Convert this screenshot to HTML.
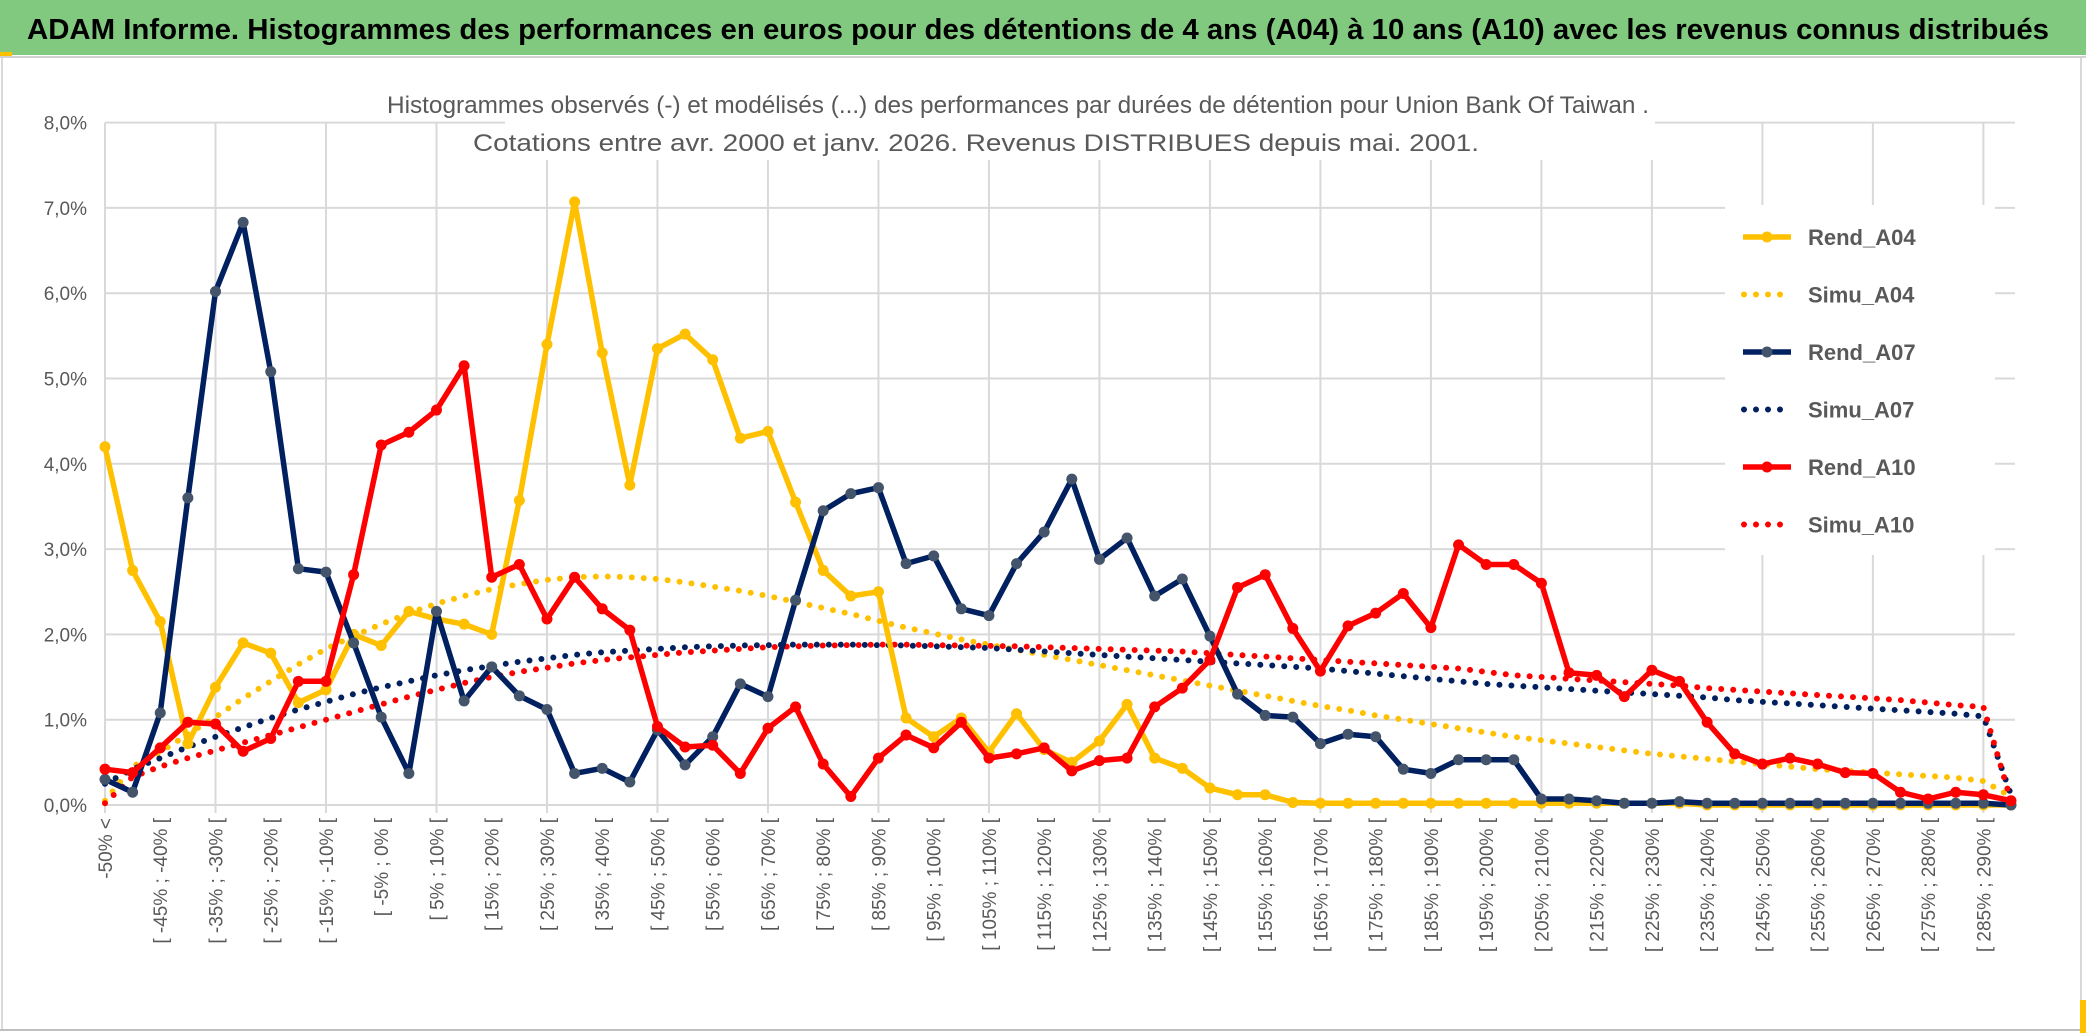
<!DOCTYPE html>
<html><head><meta charset="utf-8"><style>
html,body{margin:0;padding:0;background:#fff;}
svg{display:block;font-family:"Liberation Sans Narrow","Liberation Sans",sans-serif;}
</style></head><body>
<svg id="chart" width="2086" height="1033" viewBox="0 0 2086 1033" xmlns="http://www.w3.org/2000/svg">
<rect x="0" y="0" width="2086" height="1033" fill="#fff"/>
<rect x="0" y="0" width="2086" height="55" fill="#80C97F"/>
<rect x="0" y="52" width="12" height="4" fill="#FFC000"/>
<line x1="0" y1="57" x2="2086" y2="57" stroke="#d0d0d0" stroke-width="2"/>
<text x="27" y="39" font-size="29" font-weight="bold" fill="#000" textLength="2022" lengthAdjust="spacingAndGlyphs">ADAM Informe. Histogrammes des performances en euros pour des détentions de 4 ans (A04) à 10 ans (A10) avec les revenus connus distribués</text>
<line x1="2" y1="58" x2="2" y2="1031" stroke="#d9d9d9" stroke-width="2"/>
<line x1="0" y1="1030" x2="2086" y2="1030" stroke="#bfbfbf" stroke-width="2"/>
<line x1="2081" y1="58" x2="2081" y2="1030" stroke="#d9d9d9" stroke-width="2"/>
<rect x="2080" y="1000" width="6" height="33" fill="#FFC000"/>
<g id="grid"></g>
<rect x="505" y="60" width="1150" height="100" fill="#fff"/>
<text x="1018" y="113" font-size="24" fill="#595959" text-anchor="middle" textLength="1262" lengthAdjust="spacingAndGlyphs">Histogrammes observés (-) et modélisés (...) des performances par durées de détention pour Union Bank Of Taiwan .</text>
<text x="976" y="151" font-size="24" fill="#595959" text-anchor="middle" textLength="1006" lengthAdjust="spacingAndGlyphs">Cotations entre avr. 2000 et janv. 2026. Revenus DISTRIBUES depuis mai. 2001.</text>
<g id="axes"></g>
<g id="series"></g>
<g id="legend"></g>
</svg>
<script>
const yTicks = [0,1,2,3,4,5,6,7,8];
const lowerBounds = [];
for (let k = 1; k < 70; k++) lowerBounds.push(-55 + 5 * k);
const categories = ["-50% <"].concat(lowerBounds.map(a => "[ " + a + "% ; " + (a + 5) + "% ["));
const rendA04 = [4.2,2.75,2.15,0.72,1.38,1.9,1.78,1.2,1.35,2.0,1.87,2.27,2.18,2.12,2.0,3.57,5.4,7.07,5.3,3.75,5.35,5.52,5.22,4.3,4.38,3.55,2.75,2.45,2.5,1.02,0.8,1.02,0.62,1.07,0.65,0.5,0.75,1.18,0.55,0.43,0.2,0.12,0.12,0.03,0.02,0.02,0.02,0.02,0.02,0.02,0.02,0.02,0.02,0.02,0.02,0.02,0.02,0.02,0,0,0,0,0,0,0,0,0,0,0,0];
const simuA04 = [0.05,0.45,0.62,0.83,1.03,1.25,1.45,1.65,1.83,1.98,2.12,2.25,2.36,2.45,2.53,2.59,2.64,2.67,2.68,2.67,2.65,2.61,2.56,2.51,2.45,2.38,2.31,2.24,2.16,2.08,2.01,1.94,1.88,1.82,1.76,1.70,1.64,1.58,1.52,1.46,1.40,1.34,1.28,1.22,1.16,1.11,1.05,1.00,0.95,0.90,0.85,0.80,0.76,0.72,0.68,0.64,0.60,0.57,0.54,0.51,0.48,0.45,0.42,0.40,0.38,0.36,0.34,0.32,0.28,0.1];
const rendA07 = [0.3,0.15,1.08,3.6,6.02,6.83,5.08,2.77,2.73,1.9,1.03,0.37,2.27,1.22,1.62,1.28,1.12,0.37,0.43,0.27,0.88,0.47,0.8,1.42,1.27,2.4,3.45,3.65,3.72,2.83,2.92,2.3,2.22,2.83,3.2,3.82,2.88,3.13,2.45,2.65,1.98,1.3,1.05,1.03,0.72,0.83,0.8,0.42,0.37,0.53,0.53,0.53,0.07,0.07,0.05,0.02,0.02,0.04,0.02,0.02,0.02,0.02,0.02,0.02,0.02,0.02,0.02,0.02,0.02,0.0];
const simuA07 = [0.25,0.42,0.55,0.68,0.80,0.91,1.02,1.12,1.21,1.30,1.38,1.45,1.52,1.58,1.63,1.68,1.72,1.76,1.79,1.81,1.83,1.85,1.86,1.87,1.875,1.88,1.88,1.88,1.875,1.87,1.86,1.85,1.84,1.82,1.80,1.78,1.76,1.74,1.72,1.70,1.68,1.66,1.64,1.62,1.60,1.57,1.54,1.51,1.48,1.45,1.42,1.40,1.38,1.36,1.34,1.32,1.30,1.28,1.26,1.23,1.21,1.19,1.17,1.15,1.13,1.11,1.09,1.07,1.04,0.12];
const rendA10 = [0.42,0.38,0.67,0.97,0.95,0.63,0.78,1.45,1.45,2.7,4.22,4.37,4.63,5.15,2.67,2.82,2.18,2.67,2.3,2.05,0.92,0.68,0.7,0.37,0.9,1.15,0.48,0.1,0.55,0.82,0.67,0.97,0.55,0.6,0.67,0.4,0.52,0.55,1.15,1.37,1.7,2.55,2.7,2.07,1.57,2.1,2.25,2.48,2.08,3.05,2.82,2.82,2.6,1.55,1.52,1.27,1.58,1.45,0.97,0.6,0.48,0.55,0.48,0.38,0.37,0.15,0.07,0.15,0.12,0.05];
const simuA10 = [0.02,0.33,0.45,0.55,0.64,0.73,0.82,0.91,1.0,1.09,1.18,1.27,1.35,1.43,1.50,1.56,1.61,1.66,1.70,1.73,1.76,1.79,1.81,1.83,1.85,1.86,1.87,1.875,1.88,1.88,1.875,1.87,1.865,1.86,1.85,1.84,1.83,1.82,1.81,1.80,1.78,1.76,1.74,1.72,1.70,1.68,1.66,1.64,1.62,1.60,1.56,1.52,1.50,1.48,1.46,1.44,1.42,1.40,1.37,1.35,1.33,1.31,1.29,1.27,1.25,1.23,1.20,1.17,1.15,0.05];

const NS = "http://www.w3.org/2000/svg";
const X0 = 105, X1 = 2011, Y0 = 805, YTOP = 122.6;
const n = categories.length;
function xs(i){ return X0 + i * (X1 - X0) / (n - 1); }
function ys(v){ return Y0 - v * (Y0 - YTOP) / 8; }
function mk(tag, attrs, parent){ const e = document.createElementNS(NS, tag); for (const k in attrs) e.setAttribute(k, attrs[k]); parent.appendChild(e); return e; }

const grid = document.getElementById('grid');
const axes = document.getElementById('axes');
yTicks.forEach(t => {
  const l = mk('line', {x1: X0, x2: X1 + 4, y1: ys(t), y2: ys(t), stroke: '#d9d9d9', 'stroke-width': 2}, grid);
  
  
  const tx = mk('text', {x: 87, y: ys(t) + 7, 'font-size': 19, fill: '#595959', 'text-anchor': 'end'}, axes);
  tx.textContent = t.toFixed(1).replace('.', ',') + '%';
  
  
});
for (let i = 0; i < n; i += 4) {
  const l = mk('line', {x1: xs(i), x2: xs(i), y1: YTOP, y2: Y0 + 8, stroke: '#d9d9d9', 'stroke-width': 2}, grid);
  
  
}
for (let i = 0; i < n; i += 2) {
  const tx = mk('text', {x: 0, y: 0, 'font-size': 19, fill: '#595959', 'text-anchor': 'end', transform: 'translate(' + (xs(i) + 7) + ',818) rotate(-90)'}, axes);
  tx.textContent = categories[i];
  
  
}

const series = document.getElementById('series');
function drawDotted(vals, color, name){
  const d = vals.map((v, i) => (i ? 'L' : 'M') + xs(i).toFixed(1) + ' ' + ys(v).toFixed(1)).join(' ');
  const p = mk('path', {d: d, fill: 'none', stroke: color, 'stroke-width': 6, 'stroke-linecap': 'round', 'stroke-dasharray': '0 12'}, series);
  
  
}
function drawLine(vals, color, mcolor, name){
  const d = vals.map((v, i) => (i ? 'L' : 'M') + xs(i).toFixed(1) + ' ' + ys(v).toFixed(1)).join(' ');
  const p = mk('path', {d: d, fill: 'none', stroke: color, 'stroke-width': 5.5, 'stroke-linejoin': 'round'}, series);
  
  
  vals.forEach((v, i) => {
    const c = mk('circle', {cx: xs(i), cy: ys(v), r: 5.5, fill: mcolor}, series);
    
    
  });
}
drawDotted(simuA04, '#FFC000', 'simu-a04-line');
drawDotted(simuA07, '#002060', 'simu-a07-line');
drawDotted(simuA10, '#FF0000', 'simu-a10-line');
drawLine(rendA04, '#FFC000', '#FFC000', 'rend-a04-line');
drawLine(rendA07, '#002060', '#44546A', 'rend-a07-line');
drawLine(rendA10, '#FF0000', '#FF0000', 'rend-a10-line');

const legend = document.getElementById('legend');
const lb = mk('rect', {x: 1725, y: 205, width: 270, height: 350, fill: '#fff'}, legend);


const legNames = ['Rend_A04','Simu_A04','Rend_A07','Simu_A07','Rend_A10','Simu_A10'];
const legColors = ['#FFC000','#FFC000','#002060','#002060','#FF0000','#FF0000'];
const legMarker = ['#FFC000','','#44546A','','#FF0000',''];
legNames.forEach((nm, k) => {
  const y = 237 + k * 57.5;
  const g = mk('g', {}, legend);
  
  
  if (k % 2 === 0) {
    mk('line', {x1: 1743, x2: 1791, y1: y, y2: y, stroke: legColors[k], 'stroke-width': 5.5}, g);
    mk('circle', {cx: 1767, cy: y, r: 5.5, fill: legMarker[k]}, g);
  } else {
    mk('line', {x1: 1744, x2: 1792, y1: y, y2: y, stroke: legColors[k], 'stroke-width': 6, 'stroke-linecap': 'round', 'stroke-dasharray': '0 12'}, g);
  }
  const t = mk('text', {x: 1808, y: y + 8, 'font-size': 22, 'font-weight': 'bold', fill: '#595959'}, g);
  t.textContent = nm;
});
</script>
</body></html>
